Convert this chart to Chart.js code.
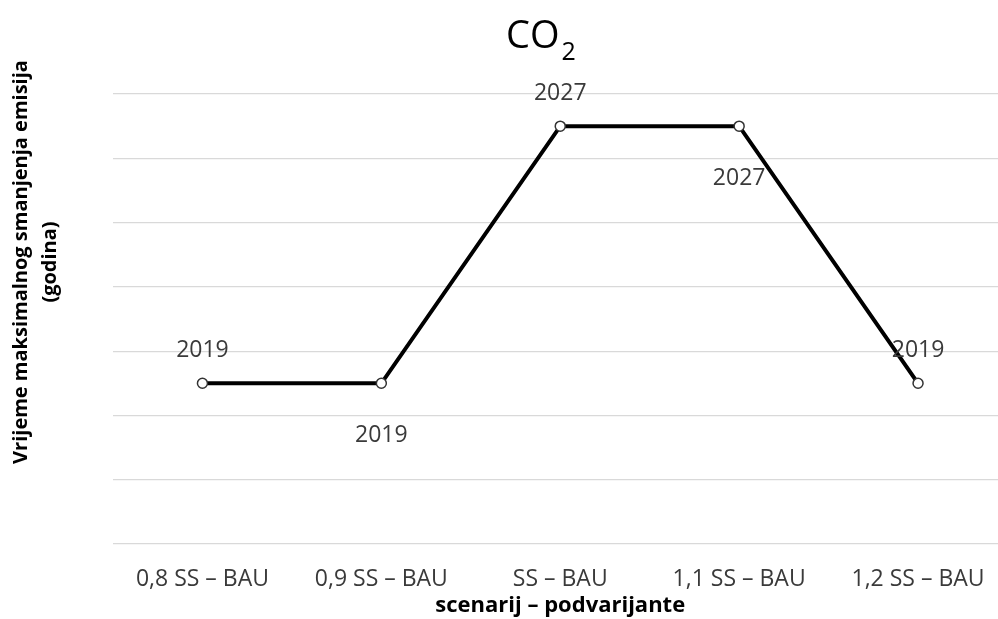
<!DOCTYPE html>
<html>
<head>
<meta charset="utf-8">
<script src="https://cdn.jsdelivr.net/npm/chart.js@4.4.0/dist/chart.umd.min.js"></script>
<style>
  html, body { margin: 0; padding: 0; background: #fff; overflow: hidden; }
</style>
</head>
<body>
<canvas id="co2Chart" width="1014" height="619"></canvas>
<script>
// scenario labels and peak-year values
const scenarios = ['0,8 SS – BAU', '0,9 SS – BAU', 'SS – BAU', '1,1 SS – BAU', '1,2 SS – BAU'];
const peakYears = [2019, 2019, 2027, 2027, 2019];
const yRange = [2014, 2028];
const yStep = 2;

const FONT = "'Open Sans', sans-serif";
const TEXT = '#3a3a3a';

// data labels: even index above the point, odd index below
const pointLabels = {
    id: 'pointLabels',
    afterDatasetsDraw(chart) {
        const ctx = chart.ctx;
        const meta = chart.getDatasetMeta(0);
        ctx.save();
        ctx.font = '23px ' + FONT;
        ctx.fillStyle = TEXT;
        ctx.textAlign = 'center';
        ctx.textBaseline = 'middle';
        meta.data.forEach((pt, i) => {
            const dy = i % 2 === 0 ? -33 : 52;
            ctx.fillText(String(peakYears[i]), pt.x, pt.y + dy);
        });
        ctx.restore();
    }
};

// chart title with subscript and the two-line y axis title
const titles = {
    id: 'titles',
    afterDraw(chart) {
        const ctx = chart.ctx;
        ctx.save();
        ctx.fillStyle = '#000';
        ctx.textBaseline = 'alphabetic';
        ctx.textAlign = 'left';
        ctx.font = '38px ' + FONT;
        const w = ctx.measureText('CO').width;
        ctx.fillText('CO', 506, 48);
        ctx.font = '25px ' + FONT;
        ctx.fillText('2', 506 + w + 2, 60);

        ctx.font = 'bold 20px ' + FONT;
        ctx.textAlign = 'center';
        ctx.textBaseline = 'middle';
        ctx.translate(21, 262);
        ctx.rotate(-Math.PI / 2);
        ctx.fillText('Vrijeme maksimalnog smanjenja emisija', 0, 0);
        ctx.fillText('(godina)', 0, 29);
        ctx.restore();
    }
};

new Chart(document.getElementById('co2Chart'), {
    type: 'line',
    data: {
        labels: scenarios,
        datasets: [{
            data: peakYears,
            borderColor: '#000',
            borderWidth: 4,
            pointRadius: 5,
            pointBorderWidth: 1.5,
            pointBackgroundColor: '#fff',
            pointBorderColor: '#333',
            tension: 0
        }]
    },
    options: {
        responsive: false,
        animation: false,
        layout: { padding: { top: 94, left: 0, right: 0, bottom: 0 } },
        plugins: { legend: { display: false }, tooltip: { enabled: false } },
        scales: {
            x: {
                offset: true,
                grid: { display: false },
                border: { display: false },
                ticks: { color: TEXT, font: { family: FONT, size: 23 }, padding: 14, maxRotation: 0 },
                title: {
                    display: true,
                    text: 'scenarij – podvarijante',
                    color: '#000',
                    font: { family: FONT, size: 22, weight: 'bold' },
                    padding: { top: 0, bottom: 0 }
                },
                afterFit(scale) { scale.height = 619 - 544; }
            },
            y: {
                min: yRange[0],
                max: yRange[1],
                ticks: { display: false, stepSize: yStep },
                grid: { color: '#d9d9d9', lineWidth: 1.2, drawTicks: false },
                border: { display: false },
                afterFit(scale) { scale.width = 113; }
            }
        }
    },
    plugins: [pointLabels, titles]
});
</script>
</body>
</html>
